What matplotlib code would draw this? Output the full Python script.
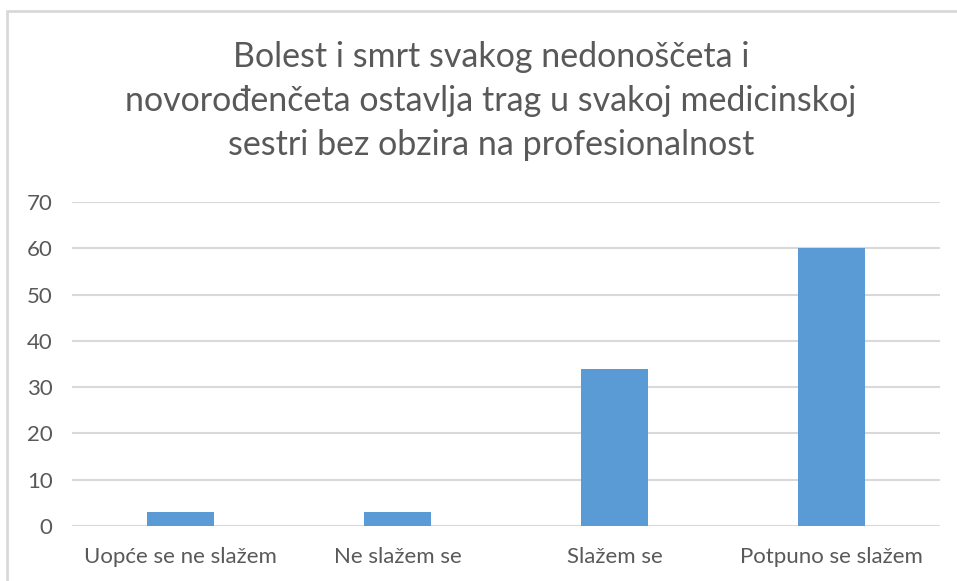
import matplotlib.pyplot as plt
from matplotlib.patches import Rectangle

categories = ['Uopće se ne slažem', 'Ne slažem se', 'Slažem se', 'Potpuno se slažem']
values = [3, 3, 34, 60]
yticks = [0, 10, 20, 30, 40, 50, 60, 70]
title = ('Bolest i smrt svakog nedonoščeta i\n'
         'novorođenčeta ostavlja trag u svakoj medicinskoj\n'
         'sestri bez obzira na profesionalnost')

plt.rcParams['font.family'] = ['Lato', 'DejaVu Sans']

W, H = 957, 581
fig = plt.figure(figsize=(W / 100, H / 100), dpi=100)

# chart frame (cut off at right and bottom like the screenshot)
fig.patches.append(Rectangle((7 / W, -0.1), 1.2, 1 - 11 / H + 0.1,
                             transform=fig.transFigure, fill=False,
                             edgecolor='#d9d9d9', linewidth=2))

ax = fig.add_axes([72 / W, 1 - 526 / H, (940 - 72) / W, (526 - 202) / H])
x = range(len(categories))
ax.bar(x, values, width=0.31, color='#5b9bd5', zorder=3)

ax.set_xlim(-0.5, len(categories) - 0.5)
ax.set_ylim(0, 70)
ax.set_yticks(yticks)
ax.set_xticks(list(x))
ax.set_xticklabels(categories)
ax.yaxis.grid(True, color='#d9d9d9', linewidth=1.5, zorder=0)
for s in ax.spines.values():
    s.set_visible(False)
ax.tick_params(length=0, labelsize=16, labelcolor='#595959')
ax.tick_params(axis='y', pad=14)
ax.tick_params(axis='x', pad=15)

fig.text(491 / W, 1 - 101 / H, title, ha='center', va='center',
         fontsize=24.5, color='#595959', linespacing=1.45)

fig.savefig('out.png', dpi=100)
